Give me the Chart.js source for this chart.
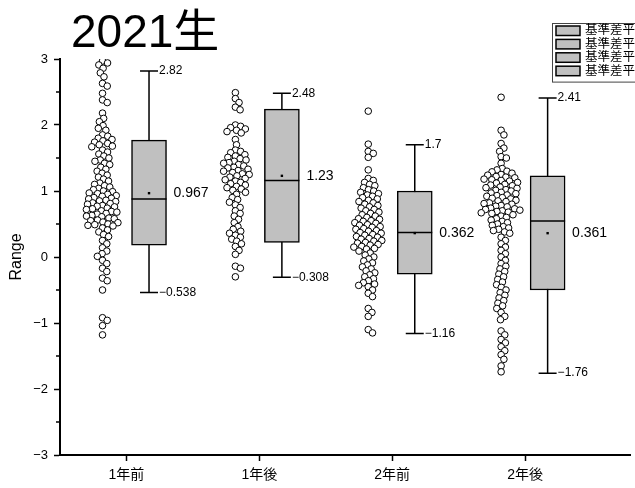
<!DOCTYPE html>
<html>
<head>
<meta charset="utf-8">
<script src="https://cdn.jsdelivr.net/npm/chart.js@4.4.1/dist/chart.umd.min.js"></script>
<style>
  html, body { margin: 0; padding: 0; background: #fff; }
</style>
</head>
<body>
<canvas id="c" width="635" height="488"></canvas>
<script>
// ---- data ----
const CATEGORIES = ['1年前', '1年後', '2年前', '2年後'];

const PRE_1 = [2.97, 2.94, 2.91, 2.86, 2.79, 2.73, 2.63, 2.59, 2.48, 2.38, 2.34, 2.18, 2.10, 2.05,
  1.99, 1.95, 1.92, 1.85, 1.83, 1.80, 1.78, 1.76, 1.74, 1.72, 1.70, 1.68, 1.67,
  1.62, 1.59, 1.56, 1.53, 1.50, 1.47, 1.45, 1.42, 1.40, 1.36, 1.33, 1.30, 1.27, 1.24, 1.21,
  1.18, 1.15, 1.12, 1.10, 1.08, 1.06, 1.04, 1.02, 1.00, 0.99, 0.97, 0.96, 0.95, 0.93, 0.92,
  0.90, 0.89, 0.88, 0.86, 0.85, 0.84, 0.82, 0.81, 0.80, 0.78, 0.77, 0.76, 0.74, 0.73, 0.72,
  0.70, 0.69, 0.68, 0.66, 0.65, 0.63, 0.62, 0.61, 0.59, 0.58, 0.56, 0.55, 0.53, 0.52, 0.50,
  0.49, 0.48, 0.47, 0.44, 0.41, 0.38, 0.34, 0.31, 0.25, 0.20, 0.14, 0.09, 0.05, 0.01,
  -0.05, -0.10, -0.17, -0.22, -0.32, -0.36, -0.50, -0.92, -0.96, -1.04, -1.18];

const POST_1 = [2.49, 2.40, 2.34, 2.27, 2.23, 2.00, 1.98, 1.96, 1.94, 1.92, 1.90, 1.88, 1.78, 1.70,
  1.62, 1.60, 1.58, 1.55, 1.53, 1.51, 1.49, 1.47, 1.45, 1.43, 1.42, 1.40, 1.38, 1.36, 1.35,
  1.33, 1.31, 1.30, 1.28, 1.26, 1.25, 1.23, 1.21, 1.19, 1.17, 1.15, 1.13, 1.11, 1.09, 1.07,
  1.05, 1.03, 1.01, 0.98, 0.95, 0.90, 0.87, 0.83, 0.79, 0.75, 0.70, 0.66, 0.62, 0.57, 0.52,
  0.46, 0.42, 0.39, 0.36, 0.33, 0.30, 0.27, 0.24, 0.20, 0.16, 0.10, 0.04, -0.14, -0.17, -0.30];

const PRE_2 = [2.21, 1.71, 1.60, 1.57, 1.51, 1.32, 1.19, 1.16, 1.13, 1.10, 1.08, 1.05, 1.02, 1.00,
  0.98, 0.96, 0.94, 0.92, 0.90, 0.88, 0.86, 0.84, 0.82, 0.80, 0.78, 0.76, 0.74, 0.72, 0.70,
  0.68, 0.66, 0.64, 0.62, 0.60, 0.58, 0.57, 0.55, 0.54, 0.52, 0.51, 0.49, 0.48, 0.46, 0.45,
  0.43, 0.42, 0.40, 0.39, 0.37, 0.36, 0.34, 0.33, 0.31, 0.30, 0.28, 0.27, 0.25, 0.24, 0.22,
  0.21, 0.19, 0.18, 0.16, 0.15, 0.13, 0.12, 0.09, 0.06, 0.03, 0.00, -0.03, -0.06, -0.09,
  -0.12, -0.15, -0.18, -0.21, -0.24, -0.27, -0.30, -0.33, -0.36, -0.39, -0.41, -0.43, -0.45,
  -0.50, -0.55, -0.60, -0.78, -0.84, -0.90, -1.10, -1.15];

const POST_2 = [2.42, 1.92, 1.85, 1.72, 1.65, 1.60, 1.52, 1.50, 1.42, 1.34, 1.32, 1.30, 1.29, 1.27,
  1.25, 1.24, 1.22, 1.21, 1.20, 1.18, 1.17, 1.16, 1.15, 1.13, 1.12, 1.10, 1.09, 1.08, 1.06,
  1.05, 1.04, 1.02, 1.01, 1.00, 0.98, 0.97, 0.96, 0.94, 0.93, 0.92, 0.90, 0.89, 0.88, 0.86,
  0.85, 0.84, 0.82, 0.81, 0.80, 0.78, 0.77, 0.76, 0.74, 0.73, 0.72, 0.71, 0.70, 0.69, 0.68,
  0.67, 0.66, 0.64, 0.62, 0.60, 0.58, 0.56, 0.54, 0.52, 0.50, 0.48, 0.46, 0.44, 0.42, 0.40,
  0.38, 0.36, 0.30, 0.25, 0.20, 0.15, 0.10, 0.05, 0.00, -0.05, -0.10, -0.14, -0.18, -0.22,
  -0.26, -0.30, -0.34, -0.38, -0.42, -0.46, -0.50, -0.54, -0.58, -0.62, -0.66, -0.70, -0.74,
  -0.78, -0.84, -0.90, -0.95, -1.12, -1.18, -1.25, -1.30, -1.36, -1.42, -1.48, -1.55, -1.65, -1.74];

const GROUPS = [PRE_1, POST_1, PRE_2, POST_2];

// box = mean +/- SD, whiskers and labels as printed on the chart
const BOX_LOW      = [0.18, 0.22, -0.26, -0.50];
const BOX_HIGH     = [1.77, 2.24, 1.00, 1.23];
const MEDIANS      = [0.88, 1.16, 0.37, 0.545];
const MEANS        = [0.967, 1.23, 0.362, 0.361];
const WHISKER_LOW  = [-0.538, -0.308, -1.16, -1.76];
const WHISKER_HIGH = [2.82, 2.48, 1.7, 2.41];

const Y_TICKS = [-3, -2, -1, 0, 1, 2, 3];
const LEGEND_LABELS = ['基準差平均', '基準差平均', '基準差平均', '基準差平均'];
const TITLE = '2021生';

// ---- look ----
const FONT = "'Liberation Sans', 'Noto Sans CJK JP', sans-serif";
const BOX_GRAY = '#c0c0c0';
const SCATTER_SHIFT = -0.18;   // category units
const BOX_SHIFT = 0.17;
const BOX_W = 35;              // px
const CAP = 9;                 // half cap width, px
const SWARM_D = 5.4;           // px between point centres

Chart.defaults.font.family = FONT;
Chart.defaults.color = '#000';

const fmt = v => String(v).replace('-', '\u2212');

const boxDecor = {
  id: 'boxDecor',
  beforeDatasetsDraw(chart) {
    const { ctx, scales: { x, y } } = chart;
    ctx.save();
    ctx.strokeStyle = '#000';
    ctx.lineWidth = 1.5;
    CATEGORIES.forEach((_, i) => {
      const cx = x.getPixelForValue(i + 1 + BOX_SHIFT);
      const top = y.getPixelForValue(WHISKER_HIGH[i]);
      const bot = y.getPixelForValue(WHISKER_LOW[i]);
      ctx.beginPath();
      ctx.moveTo(cx, top); ctx.lineTo(cx, bot);
      ctx.moveTo(cx - CAP, top); ctx.lineTo(cx + CAP, top);
      ctx.moveTo(cx - CAP, bot); ctx.lineTo(cx + CAP, bot);
      ctx.stroke();
    });
    ctx.restore();
  },
  afterDatasetsDraw(chart) {
    const { ctx, scales: { x, y } } = chart;
    ctx.save();
    ctx.fillStyle = '#000';
    ctx.strokeStyle = '#000';
    ctx.textBaseline = 'middle';
    CATEGORIES.forEach((_, i) => {
      const cx = x.getPixelForValue(i + 1 + BOX_SHIFT);
      const my = y.getPixelForValue(MEDIANS[i]);
      ctx.lineWidth = 1.5;
      ctx.beginPath();
      ctx.moveTo(cx - BOX_W / 2, my); ctx.lineTo(cx + BOX_W / 2, my);
      ctx.stroke();
      const mean = y.getPixelForValue(MEANS[i]);
      ctx.fillRect(cx - 1.2, mean - 1.2, 2.4, 2.4);

      ctx.font = '12px ' + FONT;
      ctx.textAlign = 'left';
      ctx.fillText(fmt(WHISKER_HIGH[i]), cx + CAP + 1, y.getPixelForValue(WHISKER_HIGH[i]));
      ctx.fillText(fmt(WHISKER_LOW[i]), cx + CAP + 1, y.getPixelForValue(WHISKER_LOW[i]));
      ctx.font = '14px ' + FONT;
      ctx.fillText(fmt(MEANS[i]), cx + BOX_W / 2 + 7, mean);
    });
    ctx.restore();
  },
  afterDraw(chart) {
    const { ctx, scales: { y }, chartArea } = chart;
    ctx.save();
    // minor ticks on the y axis
    ctx.strokeStyle = '#000';
    ctx.lineWidth = 1.5;
    for (let k = 0; k < Y_TICKS.length - 1; k++) {
      const py = Math.round(y.getPixelForValue((Y_TICKS[k] + Y_TICKS[k + 1]) / 2));
      ctx.beginPath();
      ctx.moveTo(chartArea.left - 4, py); ctx.lineTo(chartArea.left, py);
      ctx.stroke();
    }
    // title
    ctx.fillStyle = '#000';
    ctx.font = '46px ' + FONT;
    ctx.textAlign = 'left';
    ctx.textBaseline = 'alphabetic';
    ctx.fillText(TITLE, 71, 47);
    // legend (runs off the right edge as in the original)
    const lx = 552, ly = 23, row = 13.4;
    ctx.fillStyle = '#fff';
    ctx.fillRect(lx, ly, 100, row * LEGEND_LABELS.length + 5);
    ctx.lineWidth = 1;
    ctx.strokeStyle = '#444';
    ctx.strokeRect(lx + 0.5, ly + 0.5, 100, row * LEGEND_LABELS.length + 5);
    ctx.font = '12.5px ' + FONT;
    ctx.textBaseline = 'middle';
    LEGEND_LABELS.forEach((t, i) => {
      const ry = ly + 3 + i * row;
      ctx.fillStyle = BOX_GRAY;
      ctx.fillRect(lx + 4, ry, 24, 9.5);
      ctx.lineWidth = 1.5;
      ctx.strokeStyle = '#000';
      ctx.strokeRect(lx + 4, ry, 24, 9.5);
      ctx.fillStyle = '#000';
      ctx.fillText(t, lx + 33, ry + 5);
    });
    ctx.restore();
  }
};

const chart = new Chart(document.getElementById('c'), {
  type: 'scatter',
  data: {
    datasets: [
      {
        type: 'bar',
        data: CATEGORIES.map((_, i) => ({ x: i + 1 + BOX_SHIFT, y: [BOX_LOW[i], BOX_HIGH[i]] })),
        backgroundColor: BOX_GRAY,
        borderColor: '#000',
        borderWidth: 1.5,
        borderSkipped: false,
        barThickness: BOX_W,
      },
      ...GROUPS.map((vals, gi) => ({
        data: vals.map(v => ({ x: gi + 1 + SCATTER_SHIFT, y: v })),
        backgroundColor: '#fff',
        borderColor: '#000',
        borderWidth: 1,
        pointRadius: 3.3,
      })),
    ]
  },
  options: {
    responsive: false,
    animation: false,
    layout: { padding: { top: 59, right: 0, left: 0, bottom: 0 } },
    plugins: { legend: { display: false }, tooltip: { enabled: false } },
    scales: {
      x: {
        type: 'linear',
        min: 0.5,
        max: 4.79,
        offset: false,
        afterBuildTicks: s => { s.ticks = CATEGORIES.map((_, i) => ({ value: i + 1 })); },
        afterFit: s => { s.height = 33; },
        ticks: {
          callback: v => CATEGORIES[v - 1] || '',
          font: { size: 14 },
          padding: 6,
          maxRotation: 0,
        },
        grid: { offset: false, drawOnChartArea: false, tickLength: 6, color: '#000', tickWidth: 1.5 },
        border: { color: '#000', width: 2 },
      },
      y: {
        min: -3,
        max: 3,
        afterBuildTicks: s => { s.ticks = Y_TICKS.map(v => ({ value: v })); },
        afterFit: s => { s.width = 60; },
        ticks: {
          callback: v => fmt(v),
          font: { size: 13 },
          padding: 6,
        },
        grid: { drawOnChartArea: false, tickLength: 6, color: '#000', tickWidth: 1.5 },
        border: { color: '#000', width: 2 },
        title: { display: true, text: 'Range', font: { size: 16 }, padding: { top: 7, bottom: 0 } },
      }
    }
  },
  plugins: [boxDecor]
});

// beeswarm: spread points sideways so they do not pile up, then redraw
function swarm() {
  const xs = chart.scales.x, ys = chart.scales.y;
  const unit = xs.getPixelForValue(1) - xs.getPixelForValue(0);
  GROUPS.forEach((vals, gi) => {
    const placed = [];
    const offs = vals.map(v => {
      const py = ys.getPixelForValue(v);
      const near = placed.filter(p => Math.abs(p.y - py) < SWARM_D);
      const cands = [0];
      near.forEach(p => {
        const dx = Math.sqrt(SWARM_D * SWARM_D - (p.y - py) ** 2);
        cands.push(p.x + dx, p.x - dx);
      });
      cands.sort((a, b) => Math.abs(a) - Math.abs(b));
      const px = cands.find(c => near.every(p => (p.x - c) ** 2 + (p.y - py) ** 2 >= SWARM_D * SWARM_D - 0.01));
      placed.push({ x: px, y: py });
      return px;
    });
    chart.data.datasets[gi + 1].data = vals.map((v, k) => ({ x: gi + 1 + SCATTER_SHIFT + offs[k] / unit, y: v }));
  });
  chart.update('none');
}
swarm();
</script>
</body>
</html>
